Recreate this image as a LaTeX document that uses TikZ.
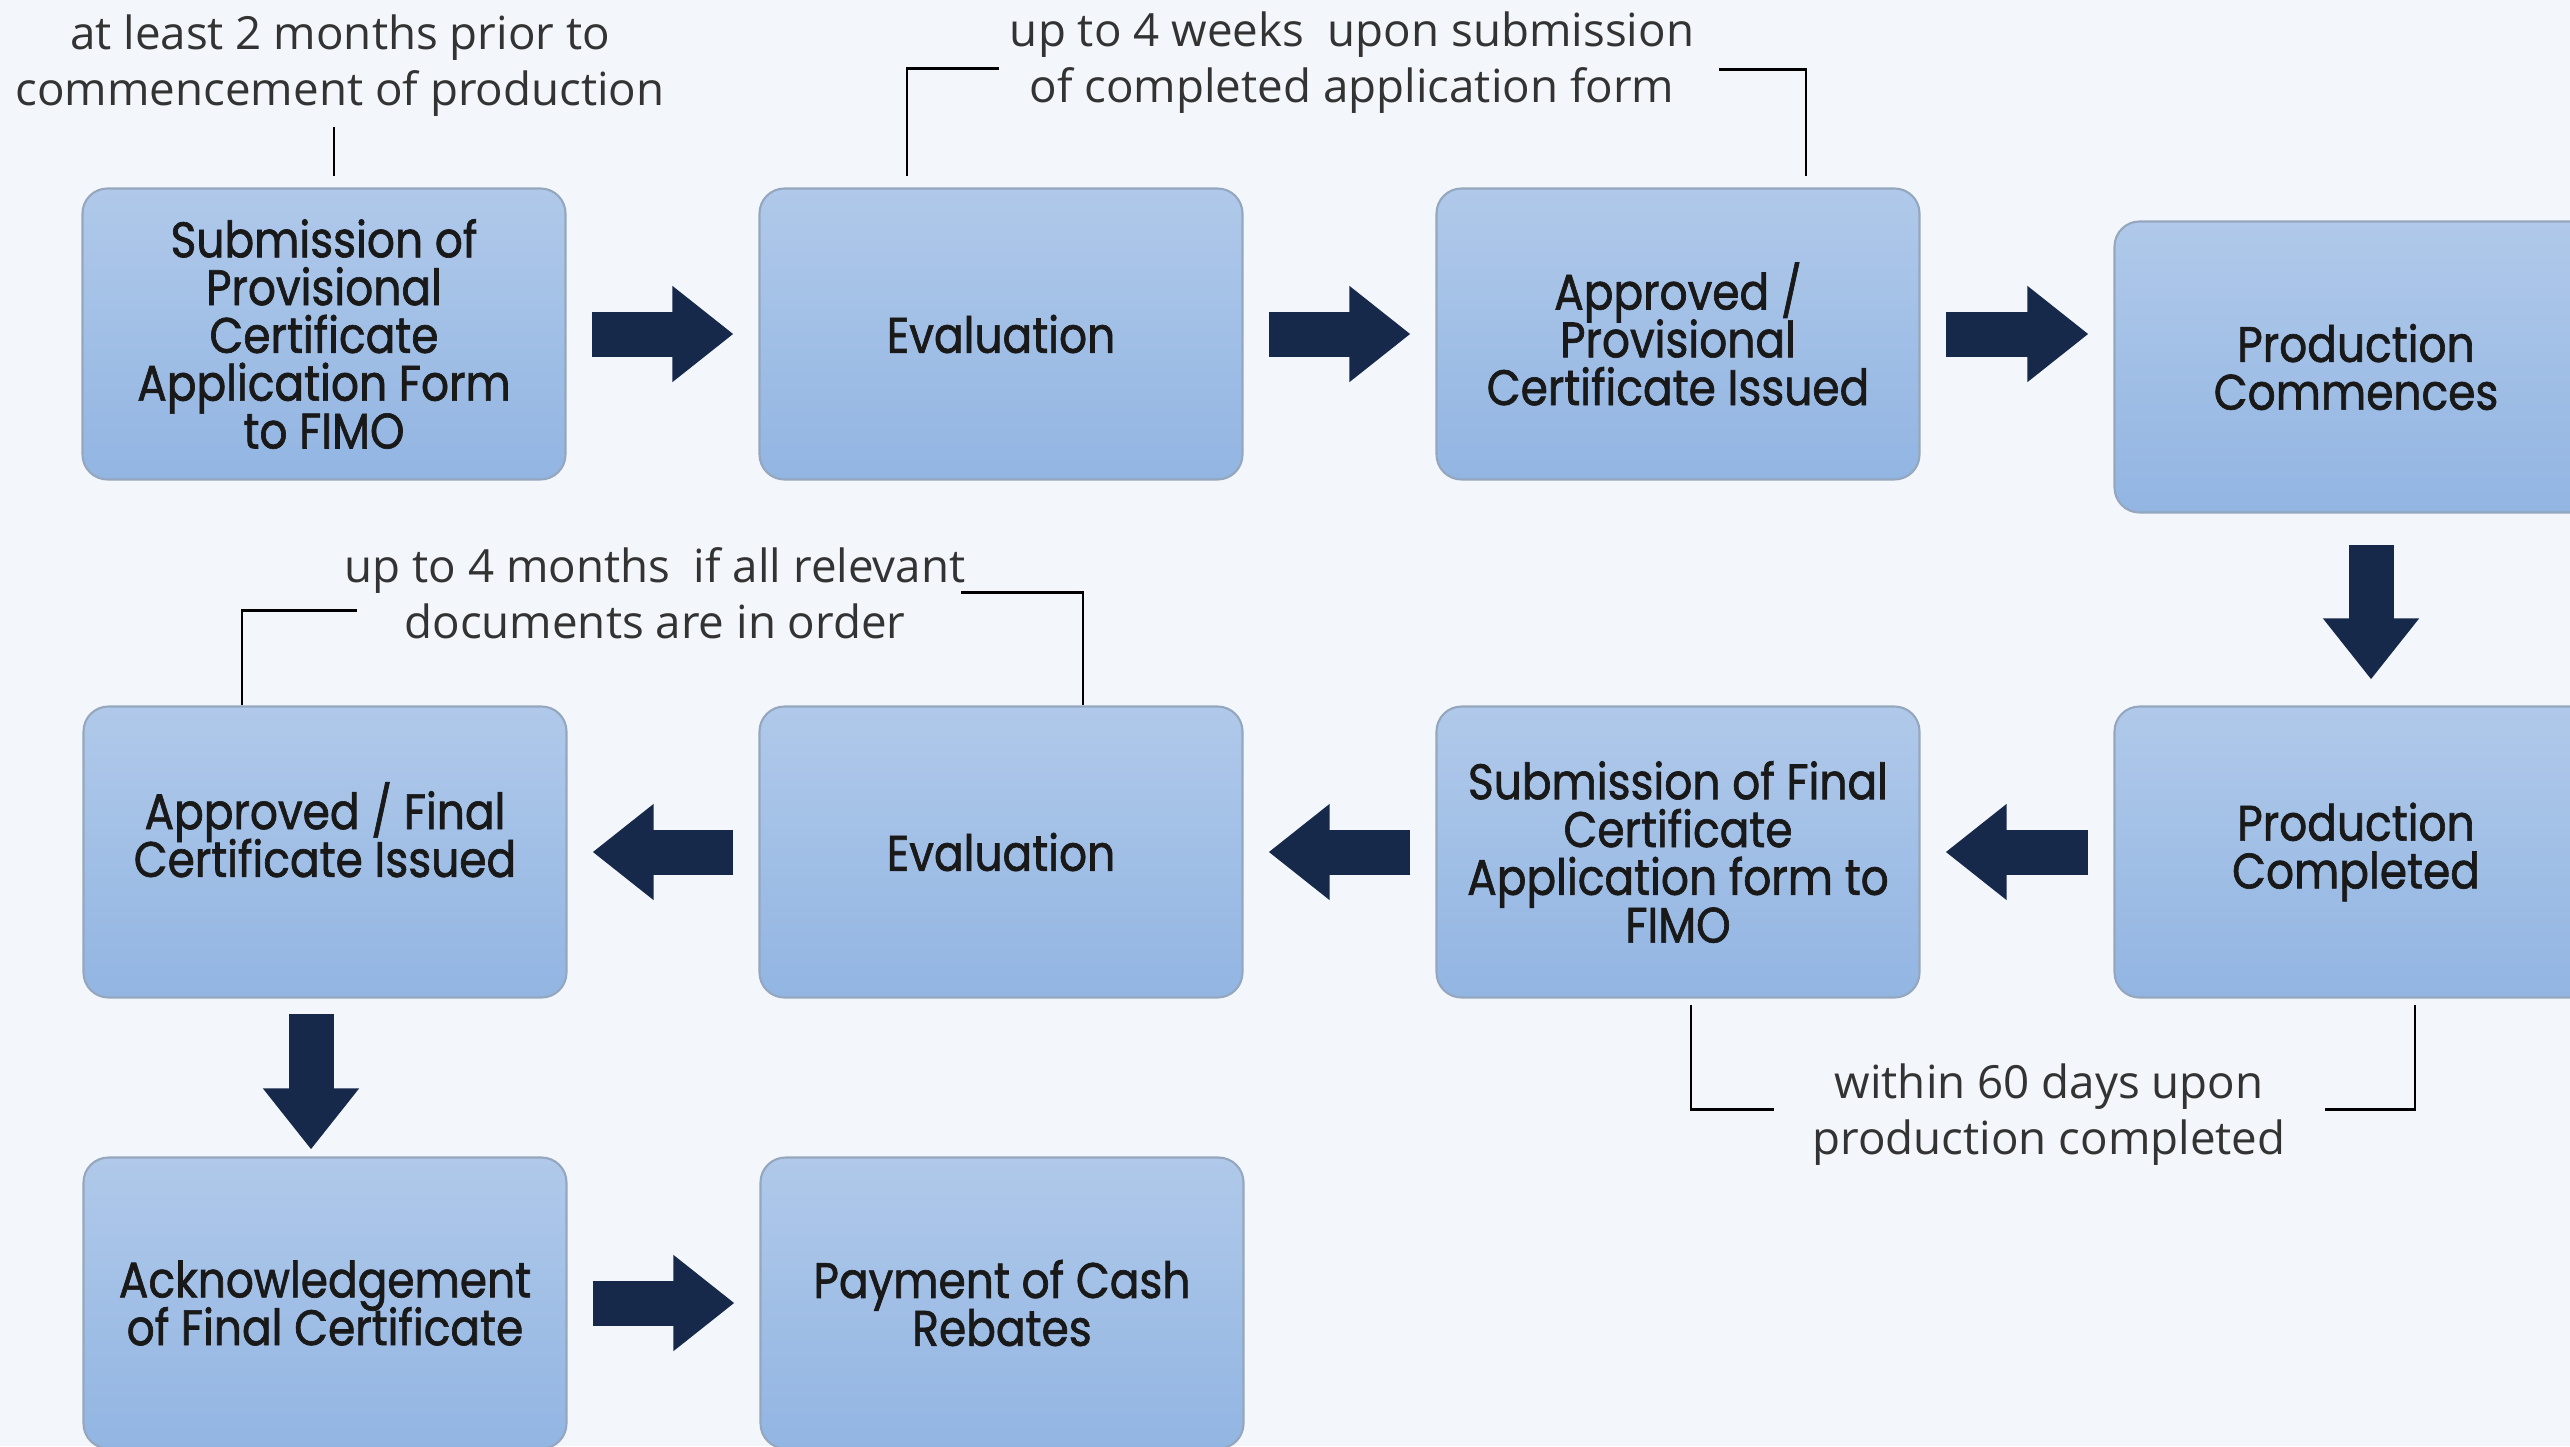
\documentclass[tikz,border=0pt]{standalone}
\usepackage{fontspec}
\setmainfont{Open Sans}
\newfontfamily\boxfont[FakeStretch=0.88, FakeBold=1.3]{Poppins}
\newcommand\stagefont{\boxfont\fontsize{14.2}{13.6}\selectfont\lineskiplimit=-1cm\relax}
\usetikzlibrary{arrows.meta}

\definecolor{pagebg}{HTML}{F3F6FA}
\definecolor{boxtop}{HTML}{B0C9EA}
\definecolor{boxbot}{HTML}{92B5E2}
\definecolor{boxline}{HTML}{95A7BE}
\definecolor{navy}{HTML}{16294A}
\definecolor{notetext}{HTML}{333333}

\begin{document}
\begin{tikzpicture}[
    stage/.style={rectangle, rounded corners=0.25cm, draw=boxline, line width=0.6pt,
      top color=boxtop, bottom color=boxbot, minimum width=4.83cm, minimum height=2.91cm,
      align=center, text=black!90, font=\stagefont},
    note/.style={align=center, text=notetext, font=\fontsize{13}{15.9}\selectfont},
    bigarrow/.style={navy, line width=0.45cm, -{Triangle[length=0.61cm,width=0.92cm]},
      shorten <=0.25cm, shorten >=0.25cm},
    bracket/.style={black, line width=0.7pt}]

  \fill[pagebg] (0,0) rectangle (25.70,-14.46);
  \useasboundingbox (0,0) rectangle (25.70,-14.46);

    %% first row
    \node[stage] (SubProv) at (3.24,-3.34) {Submission of\\Provisional\\Certificate\\Application Form\\to FIMO};
    \node[stage] (EvalA) [node distance=6.77cm, right of=SubProv] {Evaluation};
    \node[stage] (ApprProv) [node distance=6.77cm, right of=EvalA] {Approved /\\Provisional\\Certificate Issued};
    \node[stage] (ProdStart) [node distance=6.78cm, right of=ApprProv, yshift=-0.33cm] {Production\\Commences};

    %% second row
    \node[stage] (ProdDone) [node distance=4.85cm, below of=ProdStart] {Production\\Completed};
    \node[stage] (SubFinal) [node distance=6.78cm, left of=ProdDone] {Submission of Final\\Certificate\\Application form to\\FIMO};
    \node[stage] (EvalB) [node distance=6.77cm, left of=SubFinal] {Evaluation};
    \node[stage, text depth=0.45cm] (ApprFinal) [node distance=6.76cm, left of=EvalB] {Approved / Final\\Certificate Issued};

    %% third row
    \node[stage] (AckFinal) [node distance=4.51cm, below of=ApprFinal] {Acknowledgement\\of Final Certificate};
    \node[stage] (Payment) [node distance=6.77cm, right of=AckFinal] {Payment of Cash\\Rebates};

    \node[note] (NoteA) at (3.40,-0.66) {at least 2 months prior to\\commencement of production};
    \node[note] (NoteB) at (13.52,-0.63) {up to 4 weeks\ \ upon submission\\of completed application form};
    \node[note] (NoteC) at (6.55,-5.93) {up to 4 months\ \ if all relevant\\documents are in order};
    \node[note] (NoteD) at (20.49,-11.15) {within 60 days upon\\production completed};

    \draw[bracket] ([xshift=0.10cm,yshift=0.11cm]SubProv.north) -- ++(0,0.49);
    \draw[bracket] ([xshift=-0.94cm,yshift=0.11cm]EvalA.north) |- ++(0.92,1.08);
    \draw[bracket] ([xshift=1.28cm,yshift=0.11cm]ApprProv.north) |- ++(-0.87,1.07);
    \draw[bracket] ([xshift=-0.83cm]ApprFinal.north) |- ++(1.15,0.95);
    \draw[bracket] ([xshift=0.82cm]EvalB.north) |- ++(-1.22,1.13);
    \draw[bracket] ([xshift=0.13cm,yshift=-0.06cm]SubFinal.south) |- ++(0.83,-1.05);
    \draw[bracket] ([xshift=0.59cm,yshift=-0.06cm]ProdDone.south) |- ++(-0.90,-1.05);

    \draw[bigarrow] (SubProv) -- (EvalA);
    \draw[bigarrow] (EvalA) -- (ApprProv);
    \draw[bigarrow] (ApprProv.east) -- (ApprProv.east -| ProdStart.west);
    \draw[bigarrow, shorten <=0.31cm, shorten >=0.26cm] ([xshift=0.15cm]ProdStart.south) -- ([xshift=0.15cm]ProdDone.north);
    \draw[bigarrow] (ProdDone) -- (SubFinal);
    \draw[bigarrow] (SubFinal) -- (EvalB);
    \draw[bigarrow] (EvalB) -- (ApprFinal);
    \draw[bigarrow, shorten <=0.15cm, shorten >=0.07cm] ([xshift=-0.14cm]ApprFinal.south) -- ([xshift=-0.14cm]AckFinal.north);
    \draw[bigarrow] (AckFinal) -- (Payment);

  \end{tikzpicture}
\end{document}
